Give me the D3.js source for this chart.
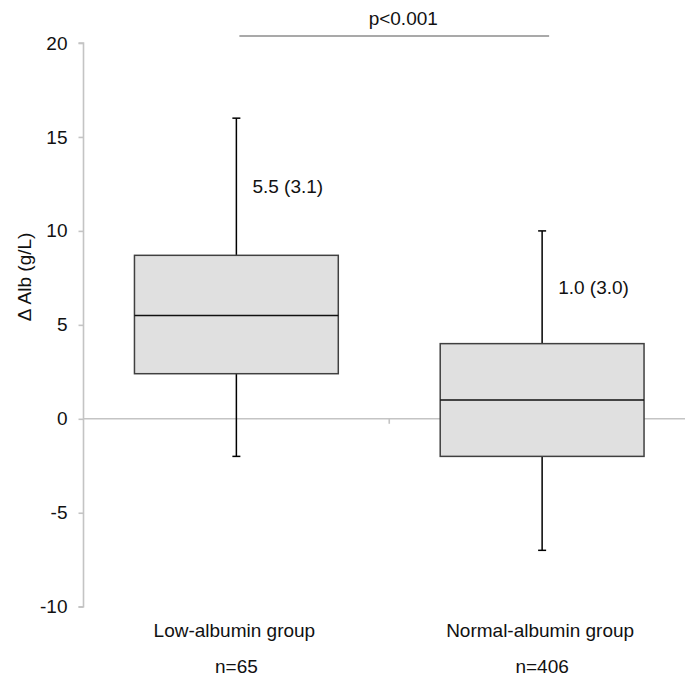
<!DOCTYPE html>
<html>
<head>
<meta charset="utf-8">
<script src="https://cdn.jsdelivr.net/npm/d3@7"></script>
<style>
  body { margin: 0; background: #fff; }
  text { font-family: "Liberation Sans", Arial, sans-serif; fill: #111; }
</style>
</head>
<body>
<div id="chart-area"></div>
<script>
// data
var groups = ["Low-albumin group", "Normal-albumin group"];
var counts = ["n=65", "n=406"];
var whiskerLow = [-2, -7];
var q1 = [2.4, -2];
var median = [5.5, 1.0];
var q3 = [8.7, 4];
var whiskerHigh = [16, 10];
var meanLabels = ["5.5 (3.1)", "1.0 (3.0)"];
var yTicks = [-10, -5, 0, 5, 10, 15, 20];
var pText = "p<0.001";

var width = 685;
var height = 680;
var fontSize = "19px";

var svg = d3.select("#chart-area")
    .append("svg")
    .attr("width", width)
    .attr("height", height);

var y = d3.scaleLinear()
    .domain([-10, 20])
    .range([606.7, 43]);

var x = d3.scaleBand()
    .domain(groups)
    .range([83.5, 695])
    .padding(0);

var boxW = x.bandwidth() * 2 / 3;
var cx = (d) => x(d) + x.bandwidth() / 2;

var data = groups.map((g, i) => {
    return {
        group: g, n: counts[i], lo: whiskerLow[i], q1: q1[i],
        med: median[i], q3: q3[i], hi: whiskerHigh[i], label: meanLabels[i]
    };
});

// left y axis
var yAxisCall = d3.axisLeft(y)
    .tickValues(yTicks)
    .tickSize(5)
    .tickPadding(11)
    .tickFormat((d) => d);

var yAxis = svg.append("g")
    .attr("transform", "translate(" + x.range()[0] + ", 0)")
    .call(yAxisCall);
yAxis.select(".domain").attr("stroke", "#c4c4c4").attr("stroke-width", 1.6).attr("d", "M-5," + y(20) + "H0V" + y(-10) + "H-5");
yAxis.selectAll(".tick line").attr("stroke", "#c4c4c4").attr("stroke-width", 1.6);
yAxis.selectAll(".tick text").attr("font-size", fontSize).attr("fill", "#111")
    .attr("font-family", "Liberation Sans, Arial, sans-serif");

// zero line acting as x axis
var xAxisCall = d3.axisBottom(x).tickSize(0).tickFormat("");
var xAxis = svg.append("g")
    .attr("transform", "translate(0, " + y(0) + ")")
    .call(xAxisCall);
xAxis.select(".domain").attr("stroke", "#c4c4c4").attr("stroke-width", 1.6)
    .attr("d", "M" + x.range()[0] + ",0H" + x.range()[1]);
xAxis.selectAll(".tick").remove();
xAxis.append("line")
    .attr("x1", x(groups[1])).attr("x2", x(groups[1]))
    .attr("y1", 0).attr("y2", 5)
    .attr("stroke", "#c4c4c4").attr("stroke-width", 1.6);

// boxes
var boxes = svg.selectAll("g.box").data(data).enter()
    .append("g")
    .attr("class", "box");

boxes.append("line")
    .attr("x1", (d) => cx(d.group)).attr("x2", (d) => cx(d.group))
    .attr("y1", (d) => y(d.hi)).attr("y2", (d) => y(d.lo))
    .attr("stroke", "#000").attr("stroke-width", 1.5);

boxes.append("line")
    .attr("x1", (d) => cx(d.group) - 4).attr("x2", (d) => cx(d.group) + 4)
    .attr("y1", (d) => y(d.hi)).attr("y2", (d) => y(d.hi))
    .attr("stroke", "#000").attr("stroke-width", 1.5);

boxes.append("line")
    .attr("x1", (d) => cx(d.group) - 4).attr("x2", (d) => cx(d.group) + 4)
    .attr("y1", (d) => y(d.lo)).attr("y2", (d) => y(d.lo))
    .attr("stroke", "#000").attr("stroke-width", 1.5);

boxes.append("rect")
    .attr("x", (d) => cx(d.group) - boxW / 2)
    .attr("y", (d) => y(d.q3))
    .attr("width", boxW)
    .attr("height", (d) => y(d.q1) - y(d.q3))
    .attr("fill", "#e0e0e0")
    .attr("stroke", "#404040")
    .attr("stroke-width", 1.5);

boxes.append("line")
    .attr("x1", (d) => cx(d.group) - boxW / 2).attr("x2", (d) => cx(d.group) + boxW / 2)
    .attr("y1", (d) => y(d.med)).attr("y2", (d) => y(d.med))
    .attr("stroke", "#111").attr("stroke-width", 1.6);

boxes.append("text")
    .attr("x", (d) => cx(d.group) + 16)
    .attr("y", (d) => y((d.q3 + d.hi) / 2))
    .attr("dy", "0.35em")
    .attr("font-size", fontSize)
    .text((d) => d.label);

// category labels
boxes.append("text")
    .attr("x", (d) => cx(d.group) - 2)
    .attr("y", 637)
    .attr("text-anchor", "middle")
    .attr("font-size", fontSize)
    .text((d) => d.group);

boxes.append("text")
    .attr("x", (d) => cx(d.group))
    .attr("y", 673)
    .attr("text-anchor", "middle")
    .attr("font-size", fontSize)
    .text((d) => d.n);

// significance bar
var pY = y(20) - 7;
svg.append("line")
    .attr("x1", cx(groups[0]) + 3).attr("x2", cx(groups[1]) + 7)
    .attr("y1", pY).attr("y2", pY)
    .attr("stroke", "#555").attr("stroke-width", 1.2);

svg.append("text")
    .attr("x", (cx(groups[0]) + cx(groups[1])) / 2 + 14)
    .attr("y", pY - 11)
    .attr("text-anchor", "middle")
    .attr("font-size", fontSize)
    .text(pText);

// y axis label
svg.append("text")
    .attr("transform", "translate(31, 277) rotate(-90)")
    .attr("text-anchor", "middle")
    .attr("font-size", fontSize)
    .text("\u0394 Alb (g/L)");
</script>
</body>
</html>
